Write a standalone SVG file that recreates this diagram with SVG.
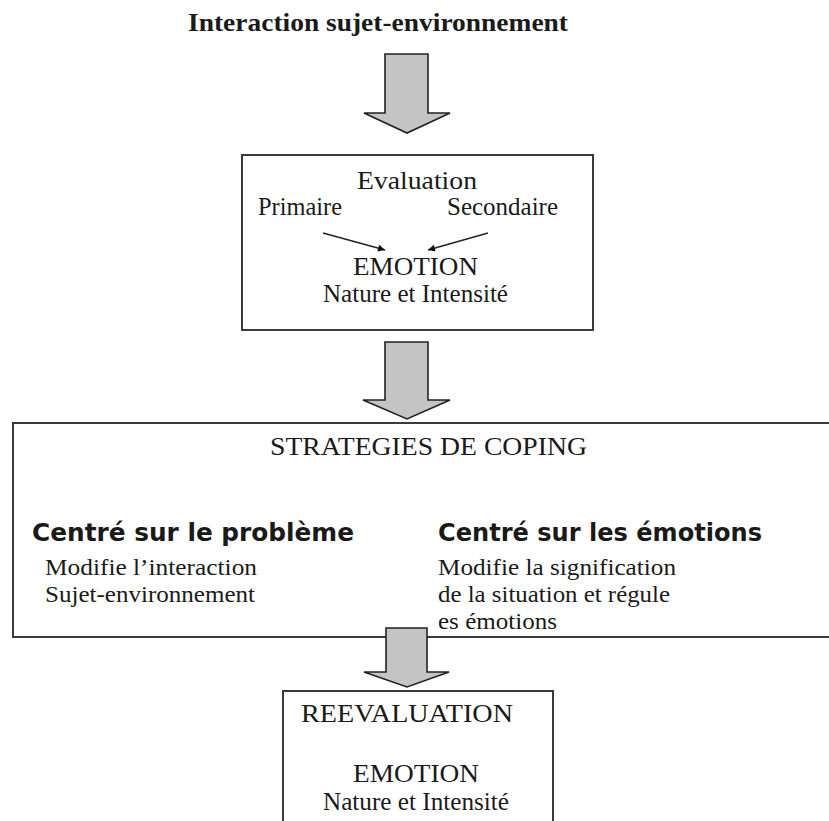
<svg xmlns="http://www.w3.org/2000/svg" width="829" height="821" viewBox="0 0 829 821">
<style>
.box{fill:#fff;stroke:#3a3a3a;stroke-width:2}
.big{fill:#c4c4c4;stroke:#222;stroke-width:1.6;stroke-linejoin:miter}
.s{font-family:"Liberation Serif","Times New Roman",serif;fill:#1a1a1a}
.b{font-family:"DejaVu Sans",sans-serif;font-weight:bold;fill:#1a1a1a}
.thin{stroke:#222;stroke-width:1.3;fill:none}
</style>
<defs>
<marker id="ah" viewBox="0 0 10 10" refX="10" refY="5" markerWidth="9" markerHeight="7" markerUnits="userSpaceOnUse" orient="auto">
<path d="M0,0 L10,5 L0,10 Z" fill="#111"/>
</marker>
</defs>
<rect width="829" height="821" fill="#fff"/>

<g id="title">
<text class="s" x="188" y="31" font-size="26" font-weight="bold" textLength="380" lengthAdjust="spacingAndGlyphs">Interaction sujet-environnement</text>
</g>

<g id="box-evaluation">
<rect class="box" x="242" y="155" width="351" height="175"/>
<text class="s" x="357" y="189" font-size="25" textLength="120" lengthAdjust="spacingAndGlyphs">Evaluation</text>
<text class="s" x="258" y="215" font-size="25" textLength="84" lengthAdjust="spacingAndGlyphs">Primaire</text>
<text class="s" x="447" y="215" font-size="25" textLength="111" lengthAdjust="spacingAndGlyphs">Secondaire</text>
<text class="s" x="353" y="275" font-size="25" textLength="125" lengthAdjust="spacingAndGlyphs">EMOTION</text>
<text class="s" x="323" y="302" font-size="25" textLength="185" lengthAdjust="spacingAndGlyphs">Nature et Intensité</text>
</g>

<g id="box-coping">
<rect class="box" x="13" y="423" width="830" height="214"/>
<text class="s" x="270" y="455" font-size="25" textLength="317" lengthAdjust="spacingAndGlyphs">STRATEGIES DE COPING</text>
<text class="b" x="32" y="541" font-size="24.5" textLength="322" lengthAdjust="spacingAndGlyphs">Centré sur le problème</text>
<text class="b" x="438" y="541" font-size="24.5" textLength="324" lengthAdjust="spacingAndGlyphs">Centré sur les émotions</text>
<text class="s" x="45" y="575" font-size="24" textLength="212" lengthAdjust="spacingAndGlyphs">Modifie l’interaction</text>
<text class="s" x="45" y="602" font-size="24" textLength="210" lengthAdjust="spacingAndGlyphs">Sujet-environnement</text>
<text class="s" x="438" y="575" font-size="24" textLength="238" lengthAdjust="spacingAndGlyphs">Modifie la signification</text>
<text class="s" x="438" y="602" font-size="24" textLength="232" lengthAdjust="spacingAndGlyphs">de la situation et régule</text>
<text class="s" x="438" y="629" font-size="24" textLength="119" lengthAdjust="spacingAndGlyphs">es émotions</text>
</g>

<g id="box-reevaluation">
<rect class="box" x="283" y="691" width="270" height="150"/>
<text class="s" x="301" y="722" font-size="25" textLength="212" lengthAdjust="spacingAndGlyphs">REEVALUATION</text>
<text class="s" x="353" y="782" font-size="25" textLength="126" lengthAdjust="spacingAndGlyphs">EMOTION</text>
<text class="s" x="323" y="810" font-size="25" textLength="186" lengthAdjust="spacingAndGlyphs">Nature et Intensité</text>
</g>

<g id="connectors">
<path class="big" d="M385,54 H428 V113 H450 L407,133 L364,113 H385 Z"/>
<path class="big" d="M385,342 H428 V400 H450 L407,419 L363,400 H385 Z"/>
<path class="big" d="M386,628 H427 V672 H449 L407,687 L364,672 H386 Z"/>
<line class="thin" x1="323" y1="233" x2="385" y2="250" marker-end="url(#ah)"/>
<line class="thin" x1="488" y1="233" x2="428" y2="250" marker-end="url(#ah)"/>
</g>
</svg>
